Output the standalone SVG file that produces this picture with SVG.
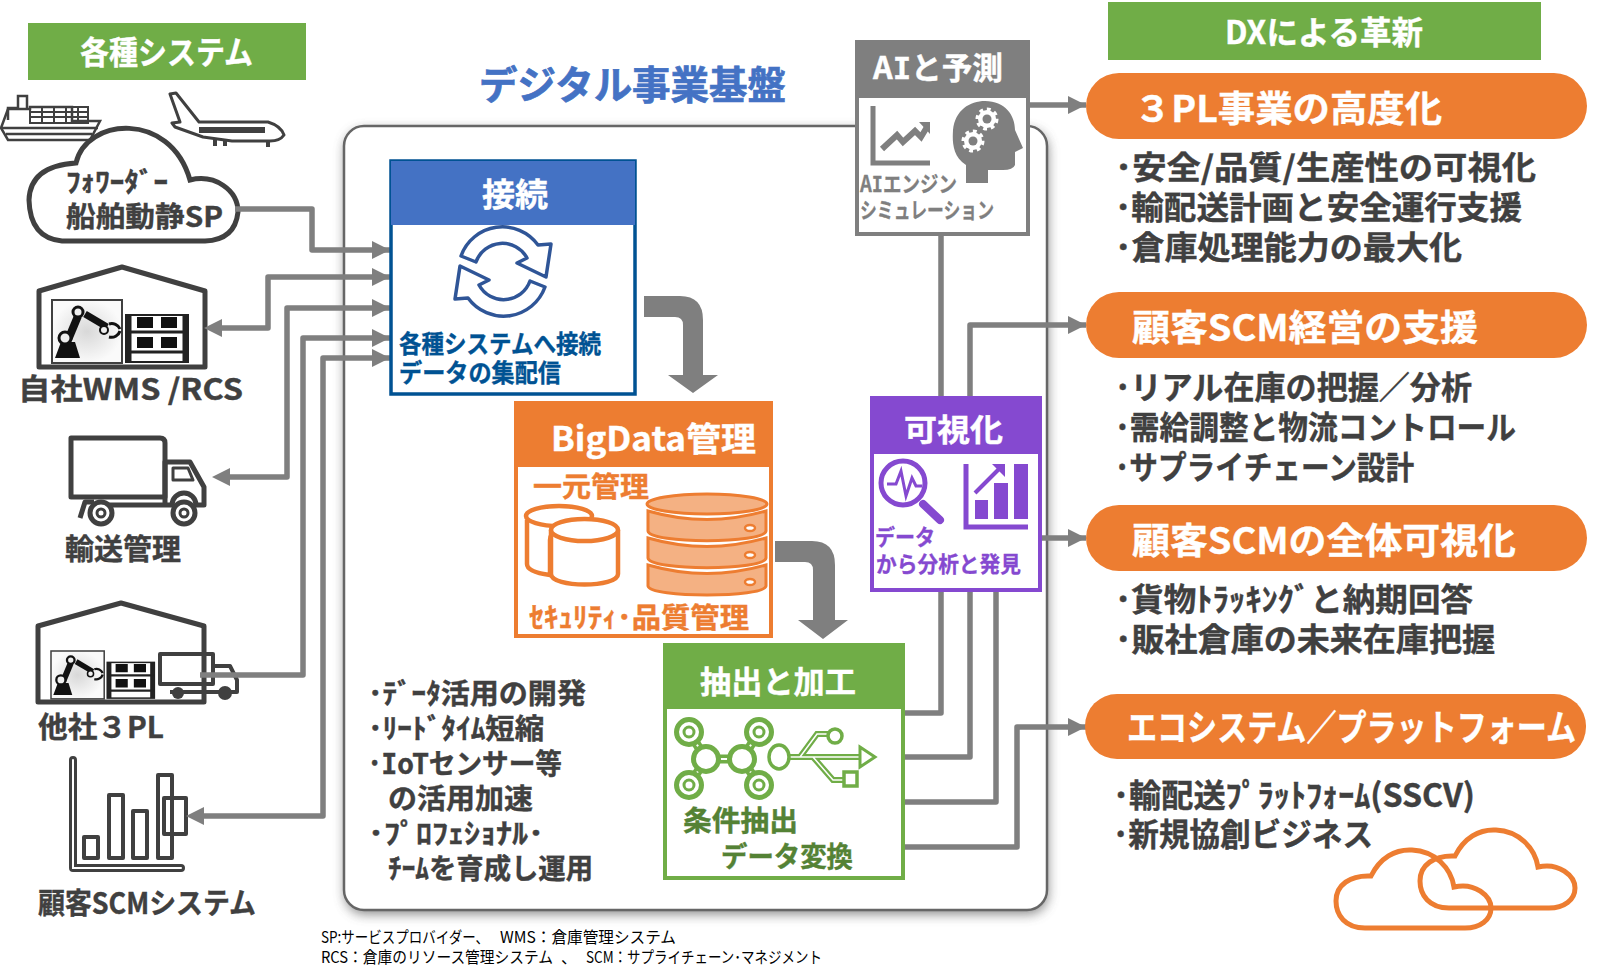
<svg xmlns="http://www.w3.org/2000/svg" width="1599" height="977" viewBox="0 0 1599 977">
<style>
text{font-family:"Noto Sans CJK JP","Noto Sans",sans-serif;font-weight:700}
.d{fill:#404040;stroke:#404040;stroke-width:.4}.w{fill:#fff;stroke:#fff;stroke-width:.4}
.n{font-weight:400}
.lat{font-family:"DejaVu Sans Mono",monospace}
.ln{fill:none;stroke:#7f7f7f;stroke-width:5.500;stroke-linejoin:round}
.ic{fill:none;stroke:#404040;stroke-linejoin:round}
</style>
<defs>
<marker id="a" markerUnits="userSpaceOnUse" markerWidth="20" markerHeight="18" refX="18" refY="9" orient="auto"><path d="M0 0L18 9L0 18z" fill="#7f7f7f"/></marker>
<filter id="sh" x="-5%" y="-5%" width="110%" height="110%"><feGaussianBlur stdDeviation="6"/></filter>
<radialGradient id="g"><stop offset="0" stop-color="#d8d8d8"/><stop offset="1" stop-color="#fafafa"/></radialGradient>
<g id="wh"><rect x="0" y="0" width="70" height="63" fill="url(#g)" stroke="#404040" stroke-width="2"/><path d="M3 58l6-16h14l5 16z" fill="#111"/><path d="M16 40L26 16" stroke="#111" stroke-width="8"/><path d="M33 14l22 13" stroke="#111" stroke-width="7"/><circle cx="13" cy="38" r="6" fill="#eee" stroke="#111" stroke-width="3"/><circle cx="26" cy="12" r="5" fill="#eee" stroke="#111" stroke-width="3"/><circle cx="52" cy="30" r="4" fill="#eee" stroke="#111" stroke-width="2"/><path d="M57 24a9 9 0 0 1 11 5M57 37a9 9 0 0 0 11-6" fill="none" stroke="#111" stroke-width="3"/><rect x="74" y="15" width="62" height="47" fill="#fff" stroke="#222" stroke-width="2"/><path d="M85 17h16v11H85zM109 17h16v11h-16zM85 37h16v11H85zM109 37h16v11h-16z" fill="#111"/><path d="M74 32h62M74 52h62" stroke="#222" stroke-width="3"/><path d="M77 15v47M133 15v47" stroke="#222" stroke-width="5"/></g>
</defs>

<g id="container">
<rect x="344" y="126" width="703" height="784" rx="20" fill="#555" filter="url(#sh)" opacity=".7" transform="translate(1 4)"/>
<rect x="344" y="126" width="703" height="784" rx="20" fill="#fff" stroke="#666" stroke-width="2.500"/>
</g>

<g id="title"><text x="479" y="99" font-size="39" fill="#4472c4" stroke="#4472c4" stroke-width=".7" textLength="307" lengthAdjust="spacingAndGlyphs">デジタル事業基盤</text></g>

<g id="hdr-systems"><rect x="28" y="23" width="278" height="57" fill="#70ad47"/><text x="80" y="64" font-size="32" class="w" textLength="173" lengthAdjust="spacingAndGlyphs">各種システム</text></g>

<g id="node-cloud">
<g fill="none" stroke="#404040" stroke-width="2.500">
<path d="M1 128L8 140H90L100 121H72V107H30V109H8z" fill="#fff"/><path d="M2 128H98M6 134H92"/><path d="M8 120V108H18V96H27V108"/><path d="M30 107H88V123H30zM30 112H88M30 117H88M42 107V123M54 107V123M66 107V123M78 107V123" stroke-width="2"/>
</g>
<path d="M170 94L176 93L199 122H268Q281 126 284 135Q280 141 270 141H232L203 137L175 127L172 123L180 122z" fill="#fff" stroke="#404040" stroke-width="3" stroke-linejoin="round"/>
<path d="M199 127H265V133H199z" fill="#404040"/>
<path d="M215 139v7M225 139v7M268 141v6" stroke="#404040" stroke-width="4"/>
<path d="M62 241Q30 238 29 200Q30 166 76 163C86 118 170 110 190 180C215 174 238 190 238 212Q235 240 205 241z" fill="#fff" stroke="#404040" stroke-width="5"/>
<text x="66" y="192" font-size="27" class="d" textLength="102" lengthAdjust="spacingAndGlyphs">ﾌｫﾜｰﾀﾞｰ</text>
<text x="66" y="227" font-size="28" class="d" textLength="157" lengthAdjust="spacingAndGlyphs">船舶動静SP</text>
</g>

<g id="node-wms">
<path class="ic" stroke-width="5" d="M39 291L122 267L205 291V367H39z"/>
<use href="#wh" x="52" y="300"/>
<text x="18" y="400" font-size="29" class="d" textLength="225" lengthAdjust="spacingAndGlyphs">自社WMS /RCS</text>
</g>

<g id="node-truck">
<path class="ic" stroke-width="5" d="M71 438H160Q165 438 165 443V497H71z"/>
<path class="ic" stroke-width="5" d="M165 462H190L204 487V505H196A12 12 0 0 0 172 505H165zM80 518L85 502H94M108 505H172"/>
<path class="ic" stroke-width="3" d="M173 468H188L193 480H173z"/>
<circle cx="101" cy="513" r="11" fill="#fff" stroke="#404040" stroke-width="5"/><circle cx="101" cy="513" r="4" fill="none" stroke="#404040" stroke-width="3"/>
<circle cx="184" cy="513" r="11" fill="#fff" stroke="#404040" stroke-width="5"/><circle cx="184" cy="513" r="4" fill="none" stroke="#404040" stroke-width="3"/>
<text x="65" y="560" font-size="29" class="d" textLength="116" lengthAdjust="spacingAndGlyphs">輸送管理</text>
</g>

<g id="node-3pl">
<path class="ic" stroke-width="5" d="M38 626L121 603L204 626V702H38z"/>
<use href="#wh" transform="translate(51 651) scale(.76 .76)"/>
<path class="ic" stroke-width="4" d="M160 654H213V684H160zM213 666H230L237 680V692H170"/>
<circle cx="178" cy="693" r="6" fill="#404040"/><circle cx="225" cy="693" r="7" fill="#404040"/>
<text x="38" y="738" font-size="29" class="d" textLength="126" lengthAdjust="spacingAndGlyphs">他社３PL</text>
</g>

<g id="node-scm">
<path class="ic" stroke-width="8" stroke-linecap="round" d="M73 760V868H181"/>
<path d="M73 760V868H181" fill="none" stroke="#fff" stroke-width="2" stroke-linecap="round"/>
<path class="ic" stroke-width="4" d="M84 837H98V858H84zM109 795H123V858H109zM133 811H147V858H133zM158 775H172V858H158zM164 798H186V834H164z"/>
<text x="38" y="914" font-size="29" class="d" textLength="218" lengthAdjust="spacingAndGlyphs">顧客SCMシステム</text>
</g>

<g id="connectors">
<path class="ln" marker-end="url(#a)" d="M235 209H312V250H390"/>
<path class="ln" d="M222 328H268V277H390" marker-end="url(#a)"/>
<path class="ln" d="M228 477H287V308H390" marker-end="url(#a)"/>
<path class="ln" d="M200 675H303V338H390" marker-end="url(#a)"/>
<path class="ln" d="M202 816H323V358H390" marker-end="url(#a)"/>
<path d="M222 319V337L204 328zM230 468V486L212 477zM204 807V825L186 816z" fill="#7f7f7f"/>
<path class="ln" d="M905 713H941V234"/>
<path class="ln" d="M905 757H970V325H1086" marker-end="url(#a)"/>
<path class="ln" d="M905 802H996V590"/>
<path class="ln" d="M905 847H1017V727H1086" marker-end="url(#a)"/>
<path class="ln" d="M1030 105H1086" marker-end="url(#a)"/>
<path class="ln" d="M1042 538H1086" marker-end="url(#a)"/>
<path d="M644 296H680Q703 296 703 320V375H718L693 393L668 375H683V325Q683 317 675 317H644z" fill="#7f7f7f"/>
<path d="M775 541H812Q835 541 835 565V620H848L823 639L798 620H813V570Q813 562 805 562H775z" fill="#7f7f7f"/>
</g>

<g id="node-connect">
<rect x="391" y="161" width="244" height="233" fill="#fff" stroke="#005293" stroke-width="3.500"/>
<rect x="391" y="161" width="244" height="64" fill="#4472c4"/>
<text x="482" y="206" font-size="32" class="w" textLength="66" lengthAdjust="spacingAndGlyphs">接続</text>
<g fill="none" stroke="#2f5597" stroke-width="3.500" stroke-linejoin="round">
<path d="M461 256A44 44 0 0 1 538 245L551 244L546 277L517 263L527 258A28 28 0 0 0 476 262z"/>
<path d="M545 287A44 44 0 0 1 468 298L455 299L460 266L489 280L479 285A28 28 0 0 0 530 281z"/>
</g>
<text x="399" y="353" font-size="25" fill="#005293" stroke="#005293" stroke-width=".4" textLength="202" lengthAdjust="spacingAndGlyphs">各種システムへ接続</text>
<text x="399" y="382" font-size="25" fill="#005293" stroke="#005293" stroke-width=".4" textLength="162" lengthAdjust="spacingAndGlyphs">データの集配信</text>
</g>

<g id="node-bigdata">
<rect x="516" y="403" width="255" height="233" fill="#fff" stroke="#ed7d31" stroke-width="4"/>
<rect x="514" y="401" width="259" height="66" fill="#ed7d31"/>
<text x="551" y="451" font-size="33" class="w" textLength="205" lengthAdjust="spacingAndGlyphs">BigData管理</text>
<text x="533" y="497" font-size="28" fill="#ed7d31" stroke="#ed7d31" stroke-width=".4" textLength="116" lengthAdjust="spacingAndGlyphs">一元管理</text>
<g fill="#fff" stroke="#ed7d31" stroke-width="4.500">
<path d="M527 520V564Q527 572 550 575V540Q550 525 590 522V520"/><ellipse cx="559" cy="516" rx="33" ry="10"/>
<path d="M551 530V574C551 588 618 588 618 574V530"/><ellipse cx="584.500" cy="530" rx="33.500" ry="11"/>
</g>
<g fill="#f4b183" stroke="#ed7d31" stroke-width="3">
<path d="M648 565Q707 582 766 565V586C764 598 650 598 648 586z"/>
<path d="M648 538Q707 555 766 538V558C764 571 650 571 648 558z"/>
<path d="M648 511Q707 528 766 511V531C764 544 650 544 648 531z"/>
<ellipse cx="707" cy="504" rx="60" ry="10"/>
</g>
<g fill="#fff" stroke="#ed7d31" stroke-width="2.500"><ellipse cx="750" cy="528" rx="5" ry="3"/><ellipse cx="750" cy="555" rx="5" ry="3"/><ellipse cx="750" cy="582" rx="5" ry="3"/></g>
<text x="529" y="628" font-size="28" fill="#ed7d31" stroke="#ed7d31" stroke-width=".4" textLength="220" lengthAdjust="spacingAndGlyphs">ｾｷｭﾘﾃｨ･品質管理</text>
</g>

<g id="node-extract">
<rect x="665" y="645" width="238" height="233" fill="#fff" stroke="#70ad47" stroke-width="4"/>
<rect x="663" y="643" width="242" height="66" fill="#70ad47"/>
<text x="700" y="693" font-size="31" class="w" textLength="156" lengthAdjust="spacingAndGlyphs">抽出と加工</text>
<path d="M689 732L706 759M759 732L742 759M689 785L706 759M759 785L742 759M706 759H742" stroke="#70ad47" stroke-width="9" fill="none"/>
<path d="M689 732L706 759M759 732L742 759M689 785L706 759M759 785L742 759M706 759H742" stroke="#fff" stroke-width="2" fill="none"/>
<g fill="#fff" stroke="#70ad47" stroke-width="5">
<circle cx="689" cy="732" r="12.500"/><circle cx="759" cy="732" r="12.500"/><circle cx="689" cy="785" r="12.500"/><circle cx="759" cy="785" r="12.500"/><circle cx="706" cy="759" r="12.500"/><circle cx="742" cy="759" r="12.500"/>
</g>
<g fill="#fff" stroke="#70ad47" stroke-width="3"><circle cx="689" cy="732" r="5"/><circle cx="759" cy="732" r="5"/><circle cx="689" cy="785" r="5"/><circle cx="759" cy="785" r="5"/></g>
<path d="M789 757H862M800 757L817 734H832M813 757L833 780H846" fill="none" stroke="#70ad47" stroke-width="6"/>
<path d="M789 757H866M800 757L817 734H832M813 757L833 780H846" fill="none" stroke="#fff" stroke-width="1.500"/>
<path d="M860 747L875 757L860 767z" fill="#fff" stroke="#70ad47" stroke-width="3"/>
<g fill="#fff" stroke="#70ad47" stroke-width="3.500"><ellipse cx="779" cy="757" rx="10" ry="12"/><circle cx="835" cy="736" r="7"/><rect x="844" y="772" width="13" height="14"/></g>
<text x="683" y="831" font-size="28" fill="#548235" stroke="#548235" stroke-width=".4" textLength="115" lengthAdjust="spacingAndGlyphs">条件抽出</text>
<text x="721" y="867" font-size="28" fill="#548235" stroke="#548235" stroke-width=".4" textLength="132" lengthAdjust="spacingAndGlyphs">データ変換</text>
</g>

<g id="node-ai">
<rect x="857" y="42" width="171" height="192" fill="#fff" stroke="#7f7f7f" stroke-width="4"/>
<rect x="855" y="40" width="175" height="58" fill="#7f7f7f"/>
<text x="873" y="79" font-size="31" class="w" textLength="130" lengthAdjust="spacingAndGlyphs">A<tspan class="lat">I</tspan>と予測</text>
<path d="M873 106V163H930" fill="none" stroke="#7f7f7f" stroke-width="5"/>
<path d="M882 149L897 135L903 142L915 131L921 137L927 127" fill="none" stroke="#7f7f7f" stroke-width="6"/><path d="M919 122H930V134z" fill="#7f7f7f"/>
<path d="M966 183V165C950 155 953 135 953 130C955 110 970 101 985 101C1005 101 1015 115 1015 130L1023 148L1015 152V165Q1013 170 1003 170H988V183z" fill="#7f7f7f"/>
<g fill="#fff" stroke="#fff" stroke-width="5" stroke-dasharray="3.500 3.500"><circle cx="987" cy="119" r="9"/><circle cx="973" cy="141" r="9"/></g><g fill="#7f7f7f"><circle cx="987" cy="119" r="4.500"/><circle cx="973" cy="141" r="4.500"/></g>
<text x="860" y="192" font-size="22" fill="#7f7f7f" stroke="#7f7f7f" stroke-width=".3" textLength="97" lengthAdjust="spacingAndGlyphs">A<tspan class="lat">I</tspan>エンジン</text>
<text x="860" y="218" font-size="22" fill="#7f7f7f" stroke="#7f7f7f" stroke-width=".3" textLength="134" lengthAdjust="spacingAndGlyphs">シミュレーション</text>
</g>

<g id="node-vis">
<rect x="872" y="398" width="168" height="192" fill="#fff" stroke="#8549d0" stroke-width="4"/>
<rect x="870" y="396" width="172" height="58" fill="#8549d0"/>
<text x="904" y="441" font-size="31" class="w" textLength="99" lengthAdjust="spacingAndGlyphs">可視化</text>
<circle cx="903" cy="483" r="22" fill="none" stroke="#8549d0" stroke-width="5"/>
<path d="M887 484H896L901 471L906 496L912 478L916 486H922" fill="none" stroke="#8549d0" stroke-width="3"/>
<path d="M923 504L940 520" stroke="#8549d0" stroke-width="8" stroke-linecap="round"/>
<path d="M966 464V527H1028" fill="none" stroke="#8549d0" stroke-width="5"/>
<path d="M975 500H988V519H975zM994 483H1008V519H994zM1014 464H1028V519H1014z" fill="#8549d0"/>
<path d="M975 493L1002 466" stroke="#8549d0" stroke-width="4"/><path d="M992 464H1005V477z" fill="#8549d0"/>
<text x="875" y="545" font-size="22" fill="#8549d0" stroke="#8549d0" stroke-width=".3" textLength="60" lengthAdjust="spacingAndGlyphs">データ</text>
<text x="876" y="572" font-size="22" fill="#8549d0" stroke="#8549d0" stroke-width=".3" textLength="145" lengthAdjust="spacingAndGlyphs">から分析と発見</text>
</g>

<g id="bullets-mid">
<text class="d" x="368" y="704" font-size="28" textLength="218" lengthAdjust="spacingAndGlyphs">･ﾃﾞｰﾀ活用の開発</text>
<text class="d" x="368" y="739" font-size="28" textLength="176" lengthAdjust="spacingAndGlyphs">･ﾘｰﾄﾞﾀｲﾑ短縮</text>
<text class="d" x="368" y="774" font-size="28" textLength="194" lengthAdjust="spacingAndGlyphs">･<tspan class="lat">I</tspan>oTセンサー等</text>
<text class="d" x="388" y="809" font-size="28" textLength="145" lengthAdjust="spacingAndGlyphs">の活用加速</text>
<text class="d" x="368" y="844" font-size="28" textLength="176" lengthAdjust="spacingAndGlyphs">･ﾌﾟﾛﾌｪｼｮﾅﾙ･</text>
<text class="d" x="388" y="879" font-size="28" textLength="205" lengthAdjust="spacingAndGlyphs">ﾁｰﾑを育成し運用</text>
</g>

<g id="footnote" fill="#000">
<text class="n" y="943" font-size="16"><tspan x="321" textLength="168" lengthAdjust="spacingAndGlyphs">SP:サービスプロバイダー、</tspan> <tspan x="500" textLength="176" lengthAdjust="spacingAndGlyphs">WMS：倉庫管理システム</tspan></text>
<text class="n" y="963" font-size="16"><tspan x="321" textLength="232" lengthAdjust="spacingAndGlyphs">RCS：倉庫のリソース管理システム</tspan> <tspan x="561">、</tspan> <tspan x="586" textLength="236" lengthAdjust="spacingAndGlyphs">SCM：サプライチェーン･マネジメント</tspan></text>
</g>

<g id="hdr-dx"><rect x="1108" y="2" width="433" height="58" fill="#70ad47"/><text x="1225" y="44" font-size="32" class="w" textLength="198" lengthAdjust="spacingAndGlyphs">DXによる革新</text></g>

<g id="out-1"><rect x="1086" y="73" width="501" height="66" rx="33" fill="#ed7d31"/><text x="1134" y="122" font-size="36" class="w" textLength="308" lengthAdjust="spacingAndGlyphs">３PL事業の高度化</text>
<g class="d" font-size="32"><text x="1115" y="179" textLength="421" lengthAdjust="spacingAndGlyphs">･安全/品質/生産性の可視化</text><text x="1115" y="219" textLength="407" lengthAdjust="spacingAndGlyphs">･輸配送計画と安全運行支援</text><text x="1115" y="259" textLength="347" lengthAdjust="spacingAndGlyphs">･倉庫処理能力の最大化</text></g></g>

<g id="out-2"><rect x="1086" y="292" width="501" height="66" rx="33" fill="#ed7d31"/><text x="1132" y="341" font-size="36" class="w" textLength="346" lengthAdjust="spacingAndGlyphs">顧客SCM経営の支援</text>
<g class="d" font-size="32"><text x="1115" y="399" textLength="357" lengthAdjust="spacingAndGlyphs">･リアル在庫の把握／分析</text><text x="1115" y="439" textLength="401" lengthAdjust="spacingAndGlyphs">･需給調整と物流コントロール</text><text x="1115" y="479" textLength="299" lengthAdjust="spacingAndGlyphs">･サプライチェーン設計</text></g></g>

<g id="out-3"><rect x="1086" y="505" width="501" height="66" rx="33" fill="#ed7d31"/><text x="1132" y="554" font-size="36" class="w" textLength="384" lengthAdjust="spacingAndGlyphs">顧客SCMの全体可視化</text>
<g class="d" font-size="32"><text x="1115" y="611" textLength="358" lengthAdjust="spacingAndGlyphs">･貨物ﾄﾗｯｷﾝｸﾞと納期回答</text><text x="1115" y="651" textLength="380" lengthAdjust="spacingAndGlyphs">･販社倉庫の未来在庫把握</text></g></g>

<g id="out-4"><rect x="1085" y="694" width="501" height="65" rx="32" fill="#ed7d31"/><text class="w" x="1127" y="741" font-size="36" textLength="449" lengthAdjust="spacingAndGlyphs">エコシステム／プラットフォーム</text>
<g class="d" font-size="32"><text x="1113" y="807" textLength="362" lengthAdjust="spacingAndGlyphs">･輸配送ﾌﾟﾗｯﾄﾌｫｰﾑ(SSCV)</text><text x="1113" y="846" textLength="260" lengthAdjust="spacingAndGlyphs">･新規協創ビジネス</text></g>
<g fill="none" stroke="#ed7d31" stroke-width="5">
<path id="c1" d="M1365 928C1345 928 1336 915 1336 901C1336 885 1350 875 1371 876C1380 858 1395 849 1412 850C1435 851 1451 868 1454 887C1475 882 1491 896 1491 908C1491 920 1480 928 1465 928z"/>
<use href="#c1" x="84" y="-20"/>
</g></g>
</svg>
